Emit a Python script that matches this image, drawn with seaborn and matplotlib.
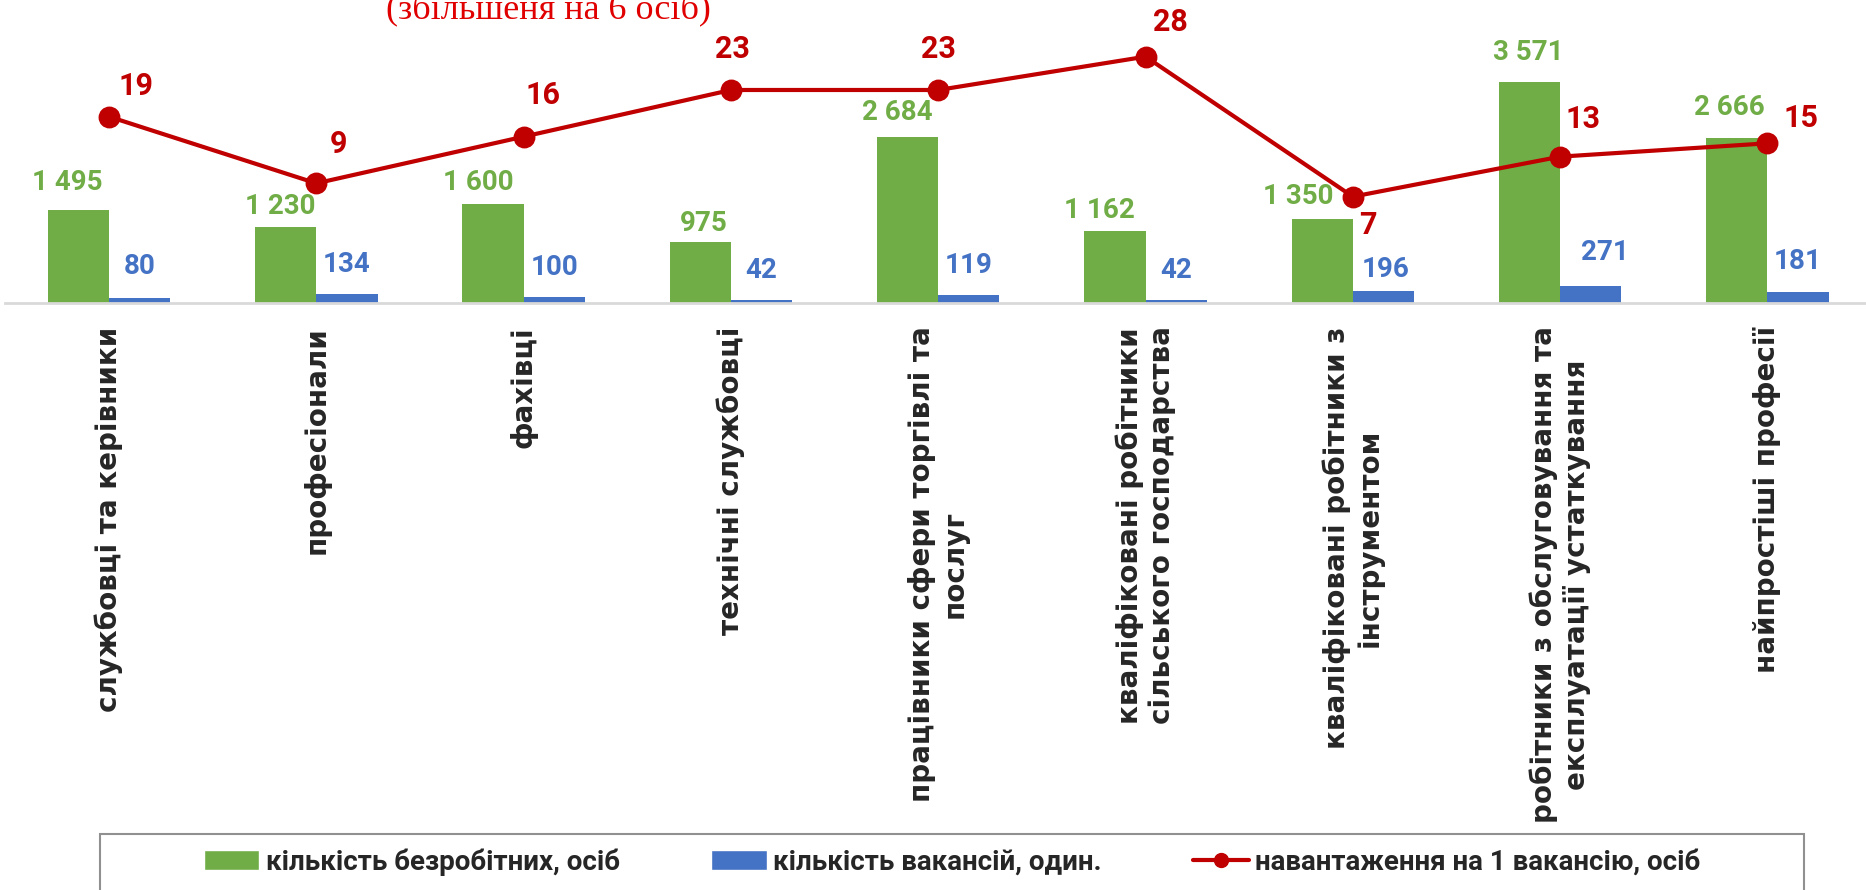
import numpy as np
import pandas as pd
import matplotlib
matplotlib.use("Agg")
import matplotlib.pyplot as plt
import seaborn as sns
from matplotlib.patches import Patch, Rectangle
from matplotlib.lines import Line2D

# chart data
categories = ["службовці та керівники", "професіонали", "фахівці", "технічні службовці",
              "працівники сфери торгівлі та\nпослуг",
              "кваліфіковані робітники\nсільського господарства",
              "кваліфіковані робітники з\nінструментом",
              "робітники з обслуговування та\nексплуатації устаткування",
              "найпростіші професії"]
unemployed = [1495, 1230, 1600, 975, 2684, 1162, 1350, 3571, 2666]
vacancies = [80, 134, 100, 42, 119, 42, 196, 271, 181]
load = [19, 9, 16, 23, 23, 28, 7, 13, 15]
series_names = ["кількість безробітних, осіб", "кількість вакансій, один.",
                "навантаження на 1 вакансію, осіб"]
note = "(збільшеня на 6 осіб)"

# hand-placed label offsets from the original (pixels: dx, dy)
green_offsets = [(-11, 28), (-6, 20), (-15, 21), (3, 19), (-10, 24), (-16, 20), (-24, 23), (-1, 30), (-7, 30)]
blue_offsets = [(0, 31), (0, 30), (0, 29), (0, 30), (0, 30), (0, 30), (2, 21), (14, 33), (0, 30)]
load_offsets = [(27, 31), (22, 39), (19, 42), (1, 41), (0, 41), (25, 35), (15, -28), (23, 38), (33, 25)]

green = "#70AD47"
blue = "#4472C4"
red = "#C00000"

sns.set_style("white")
plt.rcParams['font.family'] = ['Roboto', 'DejaVu Sans']

W, H = 1866, 890
fig = plt.figure(figsize=(W / 100, H / 100), dpi=100)
base_px = 302.7
ax = fig.add_axes([5.4 / W, (H - base_px) / H, 1865.7 / W, base_px / H])

df = pd.DataFrame({
    "cat": categories * 2,
    "value": unemployed + vacancies,
    "series": [series_names[0]] * len(categories) + [series_names[1]] * len(categories),
})
sns.barplot(data=df, x="cat", y="value", hue="series", palette=[green, blue],
            width=0.59, saturation=1, linewidth=0, legend=False, ax=ax)
ax.set_ylim(0, base_px / 0.0618)

fmt = lambda v: f"{v:,}".replace(",", " ")
for cont, vals, offs, col in [(ax.containers[0], unemployed, green_offsets, green),
                              (ax.containers[1], vacancies, blue_offsets, blue)]:
    for bar, v, off in zip(cont, vals, offs):
        ax.annotate(fmt(v), (bar.get_x() + bar.get_width() / 2, bar.get_height()),
                    xytext=off, textcoords="offset pixels", ha="center", va="center",
                    color=col, fontsize=20, fontweight="bold", zorder=5)

for s in ["top", "right", "left"]:
    ax.spines[s].set_visible(False)
ax.spines["bottom"].set_color("#D9D9D9")
ax.spines["bottom"].set_linewidth(2)
ax.set_yticks([])
ax.set_xlabel("")
ax.set_ylabel("")
ax.set_xticks(range(len(categories)), labels=categories, rotation=90,
              fontfamily="DejaVu Sans", fontweight="bold", fontsize=20)
ax.tick_params(axis="x", length=0, pad=17)

ax2 = ax.twinx()
sns.pointplot(x=categories, y=load, color=red, markers="o", markersize=13.5,
              linewidth=3, errorbar=None, ax=ax2)
ax2.set_ylim(-8.91, 36.5)
ax2.set_yticks([])
for s in ax2.spines.values():
    s.set_visible(False)
for i, v in enumerate(load):
    ax2.annotate(str(v), (i, v), xytext=load_offsets[i], textcoords="offset pixels",
                 ha="center", va="center", color=red, fontsize=22, fontweight="bold")

fig.text(548 / W, 1 - 18 / H, note, ha="center", va="baseline", color="#E00000",
         fontsize=26, family="Liberation Serif")

fig.add_artist(Rectangle((100 / W, -0.05), 1704 / W, (H - 834) / H + 0.05,
                         transform=fig.transFigure, fill=False,
                         edgecolor="#909090", linewidth=1.5))
handles = [Patch(facecolor=green), Patch(facecolor=blue),
           Line2D([], [], color=red, lw=3, marker="o", markersize=10)]
fig.legend(handles, series_names, loc="center", bbox_to_anchor=(952 / W, 1 - 862 / H),
           ncol=3, frameon=False, handlelength=2.0, handleheight=0.7,
           handletextpad=0.22, columnspacing=3.3,
           prop={"family": "Roboto", "weight": "bold", "size": 20})

fig.savefig("out.png", dpi=100)
